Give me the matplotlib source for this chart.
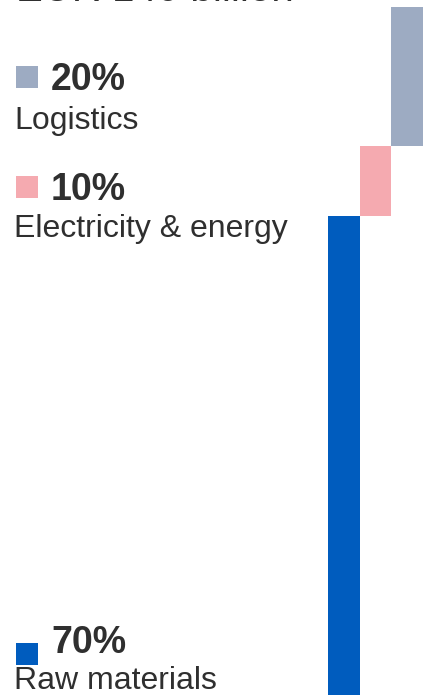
import matplotlib
matplotlib.use("Agg")
import matplotlib.pyplot as plt
from matplotlib.patches import Rectangle

# Cost breakdown
categories = ["Raw materials", "Electricity & energy", "Logistics"]
shares = [70, 10, 20]
colors = ["#005CBE", "#F5AAB0", "#9DABC2"]
title = "EUR 140 billion"

W, H = 423, 695
fig = plt.figure(figsize=(W / 100, H / 100), dpi=100)
plt.rcParams["font.family"] = ["Liberation Sans", "DejaVu Sans"]
text_color = "#2f2f2f"

def fx(px):
    return px / W

def fy(py):
    return 1 - py / H

# Waterfall-style stacked bars (the base runs slightly below the canvas)
ax = fig.add_axes([fx(328), fy(702), fx(423) - fx(328), fy(7) - fy(702)])
bottoms = []
acc = 0
for s in shares:
    bottoms.append(acc)
    acc += s
ax.bar(range(len(shares)), shares, bottom=bottoms, width=1.0,
       color=colors, linewidth=0)
ax.set_xlim(-0.5, len(shares) - 0.5)
ax.set_ylim(0, sum(shares))
ax.axis("off")

# Title (partly above the canvas)
fig.text(fx(16), fy(1), title, fontsize=29, color=text_color, va="baseline")

# Labels with colour keys
label_rows = {  # category -> (square top, pct baseline, name baseline)
    "Logistics": (66, 90, 129),
    "Electricity & energy": (176, 200, 237),
    "Raw materials": (643, 653, 689),
}
for cat, share, col in zip(categories, shares, colors):
    sq_top, pct_base, name_base = label_rows[cat]
    fig.patches.append(Rectangle((fx(16), fy(sq_top + 22)), fx(22), fy(sq_top) - fy(sq_top + 22),
                                 transform=fig.transFigure, facecolor=col, edgecolor="none"))
    fig.text(fx(51), fy(pct_base), f"{share}%", fontsize=27, fontweight="bold",
             color=text_color, va="baseline")
    fig.text(fx(14), fy(name_base), cat, fontsize=23, color=text_color, va="baseline")

fig.savefig("out.png", dpi=100)
